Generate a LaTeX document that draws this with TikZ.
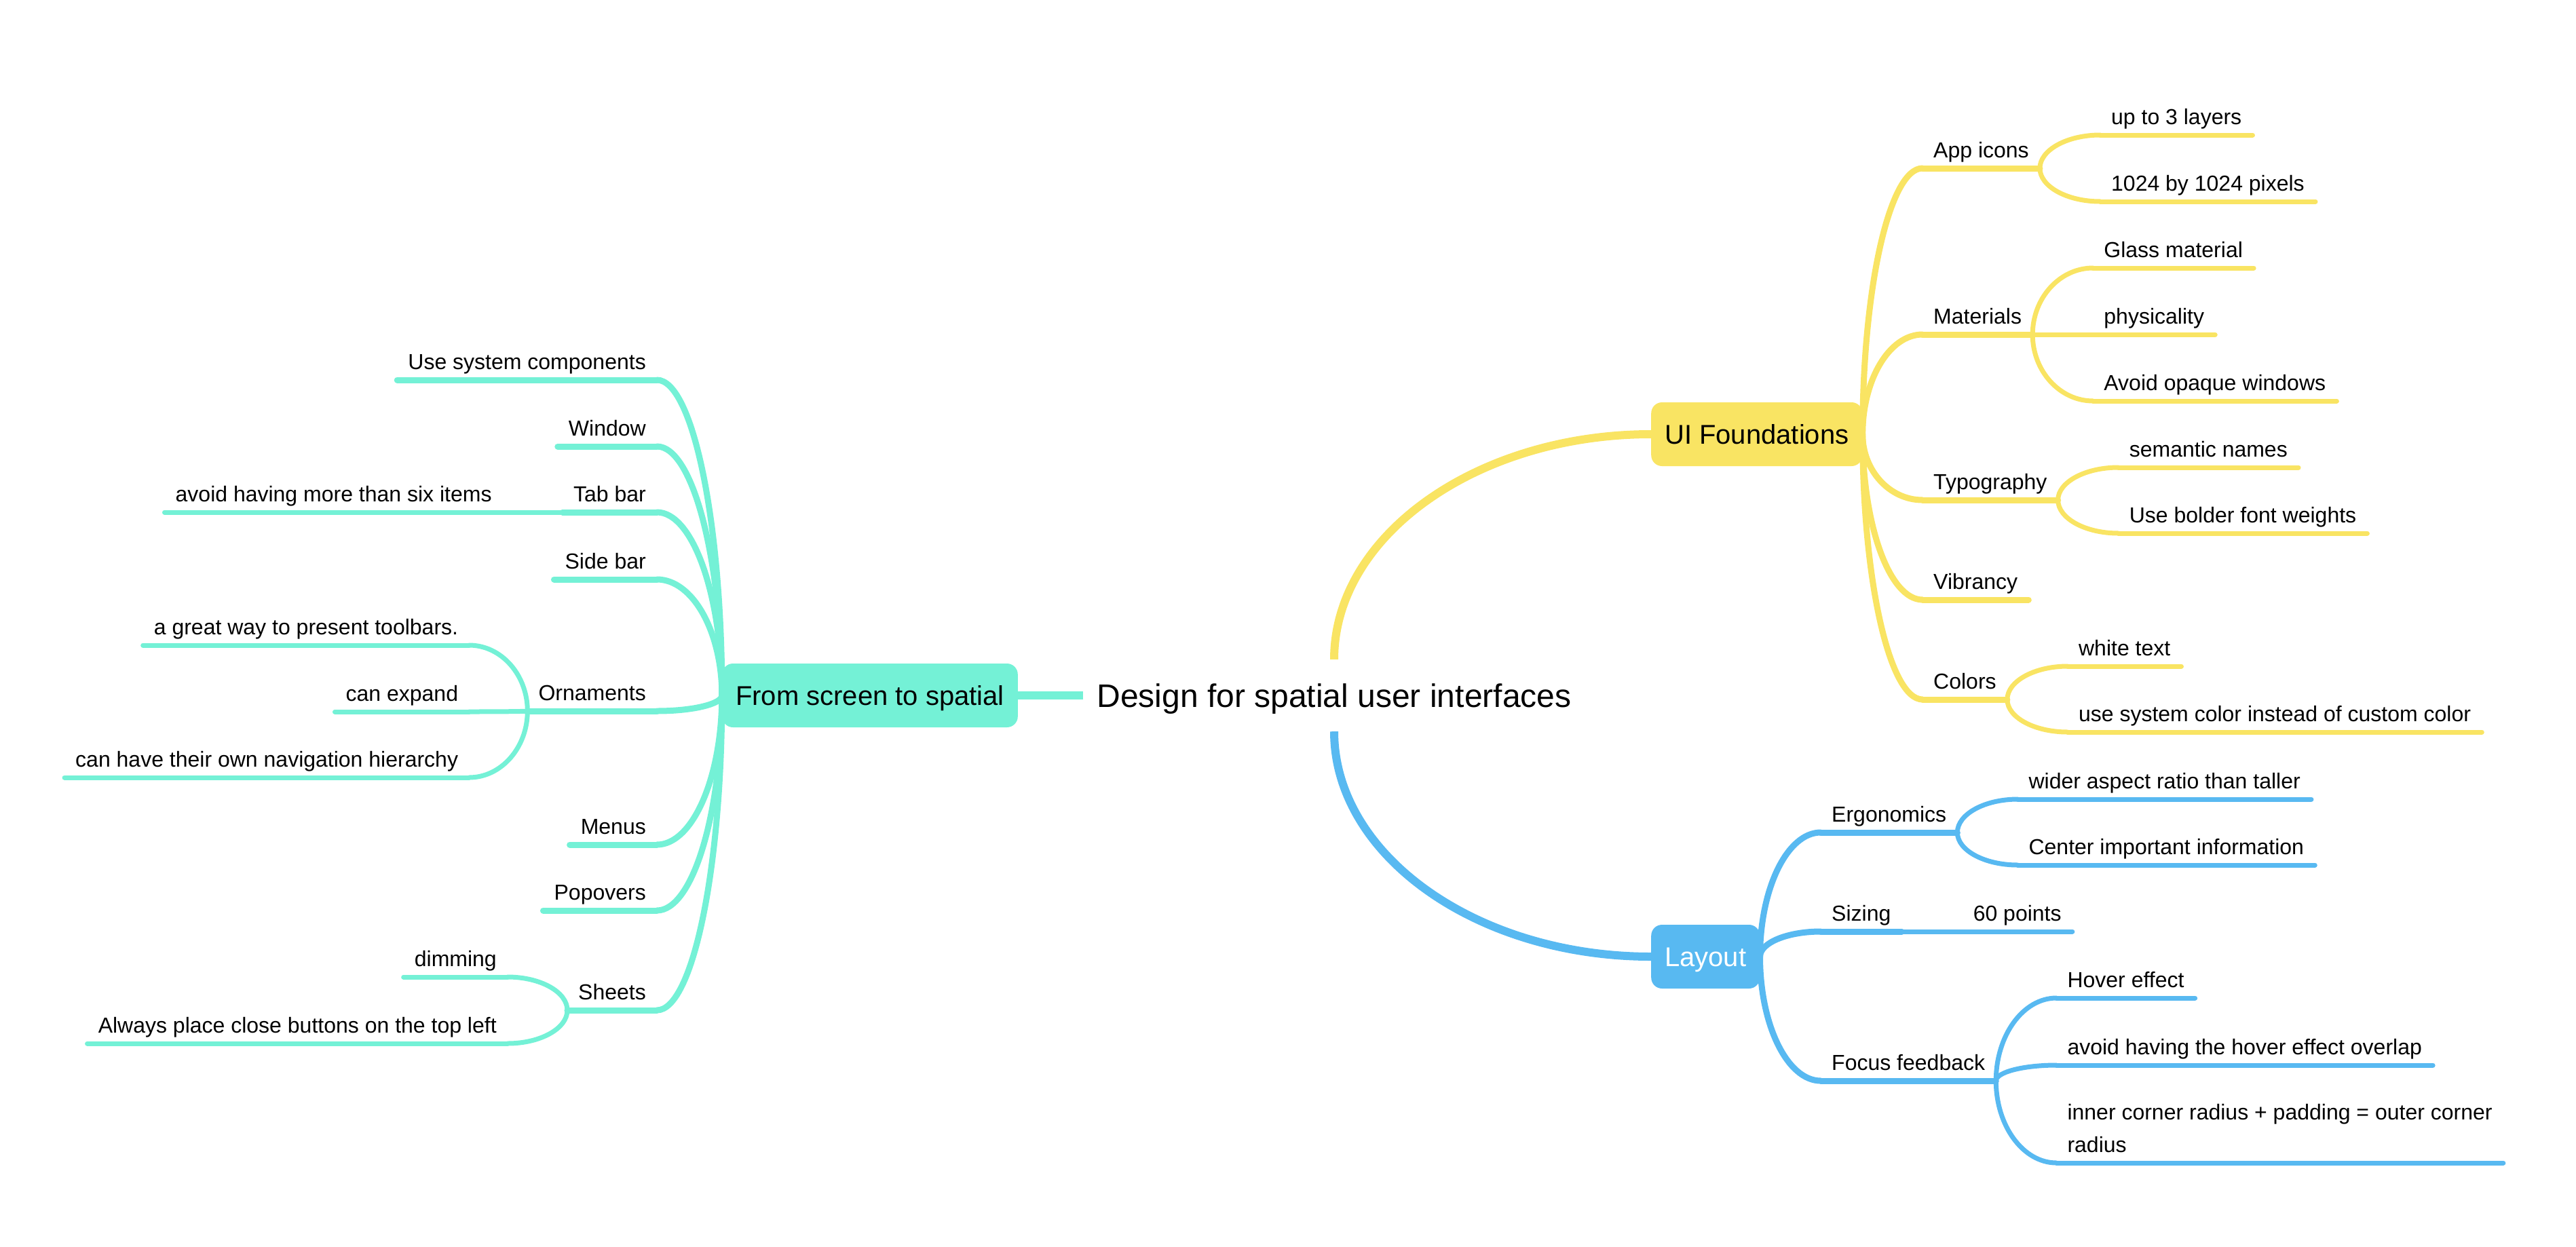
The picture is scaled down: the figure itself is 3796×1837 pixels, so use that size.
\documentclass[tikz,border=0pt]{standalone}
\usepackage{fontspec}
\setmainfont{Liberation Sans}
\usetikzlibrary{calc}
\definecolor{cYel}{RGB}{249,228,99}
\definecolor{cTeal}{RGB}{116,241,214}
\definecolor{cBlue}{RGB}{88,185,241}
\tikzset{
  sub/.style={font=\fontsize{32}{48}\selectfont, inner xsep=16pt, inner ysep=15pt, text height=23pt, text depth=0pt},
  topicbox/.style={rounded corners=16pt, font=\fontsize{40}{48}\selectfont, inner xsep=20pt, inner ysep=0pt, minimum height=94pt, text height=28pt, text depth=0pt},
  rootnode/.style={font=\fontsize{48}{58}\selectfont, inner xsep=20pt, inner ysep=0pt, minimum height=106pt, text height=34pt, text depth=0pt},
  mainline/.style={line width=12pt},
  lone/.style={line width=9pt, line cap=round},
  ltwo/.style={line width=7pt, line cap=round},
}
% curved connector: leaves parent vertically, reaches child horizontally
\newcommand\mmconn[3]{\draw[#1] let \p1=(#2), \p2=(#3) in (\p1) .. controls (\x1,{\y1+0.55*(\y2-\y1)}) and ({\x2-0.55*(\x2-\x1)},\y2) .. (\p2);}
% right-side topic: [shift]{line style}{colour}{parent point}{name}{position}{text}
\newcommand\rnode[7][0pt]{%
  \node[sub, anchor=south west, xshift=#1] (#5) at (#6) {#7};
  \mmconn{#2,#3}{#4}{#5.south west}%
  \draw[#2,#3] (#5.south west) -- (#5.south east);}
% left-side topic
\newcommand\lnode[7][0pt]{%
  \node[sub, anchor=south east, xshift=#1] (#5) at (#6) {#7};
  \mmconn{#2,#3}{#4}{#5.south east}%
  \draw[#2,#3] (#5.south east) -- (#5.south west);}
\begin{document}
\begin{tikzpicture}[x=1pt,y=-1pt]
\useasboundingbox (0,0) rectangle (3796,1837);

% central topic and main topics
\node[rootnode] (root) at (1966,1025) {Design for spatial user interfaces};
\mmconn{mainline,cYel}{root.north}{2433,640}
\mmconn{mainline,cBlue}{root.south}{2433,1410}
\draw[mainline,cTeal] (root.west) -- (1500,1025);
\node[topicbox, fill=cYel, anchor=west] (ui) at (2433,640) {UI Foundations};
\node[topicbox, fill=cTeal, anchor=east] (from) at (1500,1025) {From screen to spatial};
\node[topicbox, fill=cBlue, text=white, anchor=west] (layout) at (2433,1410) {Layout};

% ---------- UI Foundations ----------
\rnode{lone}{cYel}{ui.east}{appicons}{2833,248}{App icons}
\rnode[89pt]{ltwo}{cYel}{appicons.south east}{uptothree}{appicons.south east |- 0,199}{up to 3 layers}
\rnode[89pt]{ltwo}{cYel}{appicons.south east}{pixels}{appicons.south east |- 0,297}{1024 by 1024 pixels}

\rnode{lone}{cYel}{ui.east}{materials}{2833,493}{Materials}
\rnode[89pt]{ltwo}{cYel}{materials.south east}{glass}{materials.south east |- 0,395}{Glass material}
\rnode[89pt]{ltwo}{cYel}{materials.south east}{physical}{materials.south east |- 0,493}{physicality}
\rnode[89pt]{ltwo}{cYel}{materials.south east}{opaque}{materials.south east |- 0,591}{Avoid opaque windows}

\rnode{lone}{cYel}{ui.east}{typo}{2833,737}{Typography}
\rnode[89pt]{ltwo}{cYel}{typo.south east}{semantic}{typo.south east |- 0,689}{semantic names}
\rnode[89pt]{ltwo}{cYel}{typo.south east}{bolder}{typo.south east |- 0,786}{Use bolder font weights}

\rnode{lone}{cYel}{ui.east}{vibrancy}{2833,884}{Vibrancy}

\rnode{lone}{cYel}{ui.east}{colors}{2833,1031}{Colors}
\rnode[89pt]{ltwo}{cYel}{colors.south east}{whitetext}{colors.south east |- 0,982}{white text}
\rnode[89pt]{ltwo}{cYel}{colors.south east}{syscolor}{colors.south east |- 0,1079}{use system color instead of custom color}

% ---------- Layout ----------
\rnode{lone}{cBlue}{layout.east}{ergo}{2683,1227}{Ergonomics}
\rnode[89pt]{ltwo}{cBlue}{ergo.south east}{wider}{ergo.south east |- 0,1178}{wider aspect ratio than taller}
\rnode[89pt]{ltwo}{cBlue}{ergo.south east}{centerinfo}{ergo.south east |- 0,1275}{Center important information}

\rnode{lone}{cBlue}{layout.east}{sizing}{2683,1373}{Sizing}
\rnode[89pt]{ltwo}{cBlue}{sizing.south east}{sixty}{sizing.south east |- 0,1373}{60 points}

\rnode{lone}{cBlue}{layout.east}{focus}{2683,1593}{Focus feedback}
\rnode[89pt]{ltwo}{cBlue}{focus.south east}{hover}{focus.south east |- 0,1471}{Hover effect}
\rnode[89pt]{ltwo}{cBlue}{focus.south east}{overlap}{focus.south east |- 0,1570}{avoid having the hover effect overlap}
\rnode[89pt]{ltwo}{cBlue}{focus.south east}{radius}{focus.south east |- 0,1714}{\begin{tabular}[b]{@{}l@{}}inner corner radius + padding = outer corner\\radius\end{tabular}}

% ---------- From screen to spatial ----------
\lnode{lone}{cTeal}{from.west}{syscomp}{968,560}{Use system components}
\lnode{lone}{cTeal}{from.west}{window}{968,658}{Window}
\lnode{lone}{cTeal}{from.west}{tabbar}{968,755}{Tab bar}
\lnode[-88pt]{ltwo}{cTeal}{tabbar.south west}{sixitems}{tabbar.south west |- 0,755}{avoid having more than six items}
\lnode{lone}{cTeal}{from.west}{sidebar}{968,854}{Side bar}
\lnode{lone}{cTeal}{from.west}{ornaments}{968,1048}{Ornaments}
\lnode[-86pt]{ltwo}{cTeal}{ornaments.south west}{toolbars}{ornaments.south west |- 0,951}{a great way to present toolbars.}
\lnode[-86pt]{ltwo}{cTeal}{ornaments.south west}{expand}{ornaments.south west |- 0,1049}{can expand}
\lnode[-86pt]{ltwo}{cTeal}{ornaments.south west}{hierarchy}{ornaments.south west |- 0,1146}{can have their own navigation hierarchy}
\lnode{lone}{cTeal}{from.west}{menus}{968,1245}{Menus}
\lnode{lone}{cTeal}{from.west}{popovers}{968,1342}{Popovers}
\lnode{lone}{cTeal}{from.west}{sheets}{968,1489}{Sheets}
\lnode[-88pt]{ltwo}{cTeal}{sheets.south west}{dimming}{sheets.south west |- 0,1440}{dimming}
\lnode[-88pt]{ltwo}{cTeal}{sheets.south west}{closebtn}{sheets.south west |- 0,1538}{Always place close buttons on the top left}
\end{tikzpicture}
\end{document}
